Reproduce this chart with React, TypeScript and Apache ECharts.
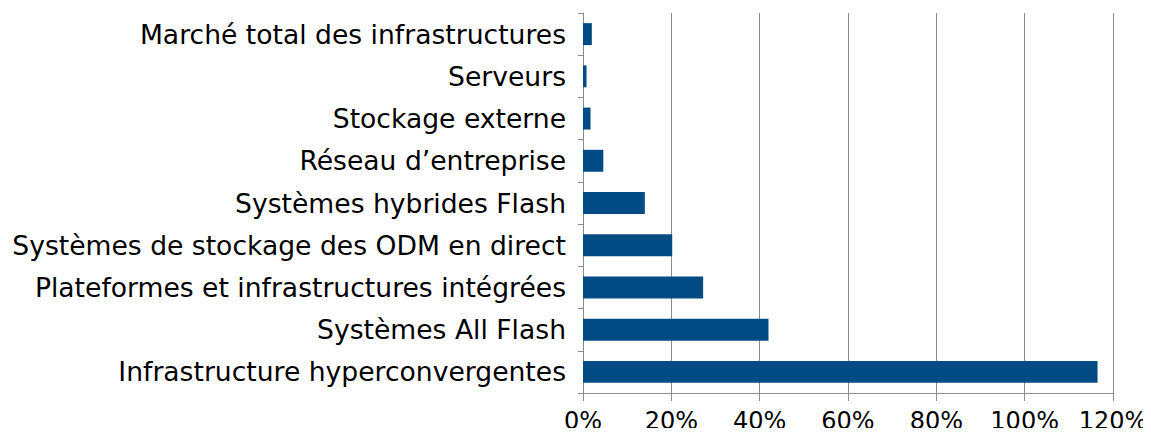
import React, { useEffect, useRef } from "react";
import * as echarts from "echarts";

const categories = [
  "Marché total des infrastructures",
  "Serveurs",
  "Stockage externe",
  "Réseau d’entreprise",
  "Systèmes hybrides Flash",
  "Systèmes de stockage des ODM en direct",
  "Plateformes et infrastructures intégrées",
  "Systèmes All Flash",
  "Infrastructure hyperconvergentes",
];
const growth = [2.0, 0.8, 1.7, 4.6, 14.0, 20.2, 27.2, 42.0, 116.5];
const xTicks = [0, 20, 40, 60, 80, 100, 120];

export default function App() {
  const ref = useRef<HTMLDivElement>(null);
  useEffect(() => {
    if (!ref.current) return;
    const chart = echarts.init(ref.current, null, { renderer: "svg" });
    chart.setOption({
      animation: false,
      grid: { left: 583, right: 38, top: 13, bottom: 43, containLabel: false },
      xAxis: {
        type: "value",
        min: xTicks[0],
        max: xTicks[xTicks.length - 1],
        interval: 20,
        axisLine: { show: true, lineStyle: { color: "#8c8c8c", width: 1 } },
        axisTick: { show: true, length: 8, lineStyle: { color: "#8c8c8c" } },
        splitLine: { show: true, lineStyle: { color: "#8c8c8c", width: 1 } },
        axisLabel: {
          formatter: (v: number) => `${v}%`,
          color: "#000",
          fontFamily: "DejaVu Sans, sans-serif",
          fontSize: 24,
          margin: 16,
        },
      },
      yAxis: {
        type: "category",
        data: categories,
        inverse: true,
        axisLine: { show: true, lineStyle: { color: "#8c8c8c", width: 1 } },
        axisTick: { show: true, length: 5, lineStyle: { color: "#8c8c8c" } },
        axisLabel: {
          color: "#000",
          fontFamily: "DejaVu Sans, sans-serif",
          fontSize: 26.6,
          margin: 17,
        },
      },
      series: [
        {
          type: "bar",
          data: growth,
          barWidth: "52%",
          itemStyle: { color: "#004b84" },
        },
      ],
    });
    return () => chart.dispose();
  }, []);
  return <div ref={ref} style={{ width: 1151, height: 436, margin: -8 }} />;
}
